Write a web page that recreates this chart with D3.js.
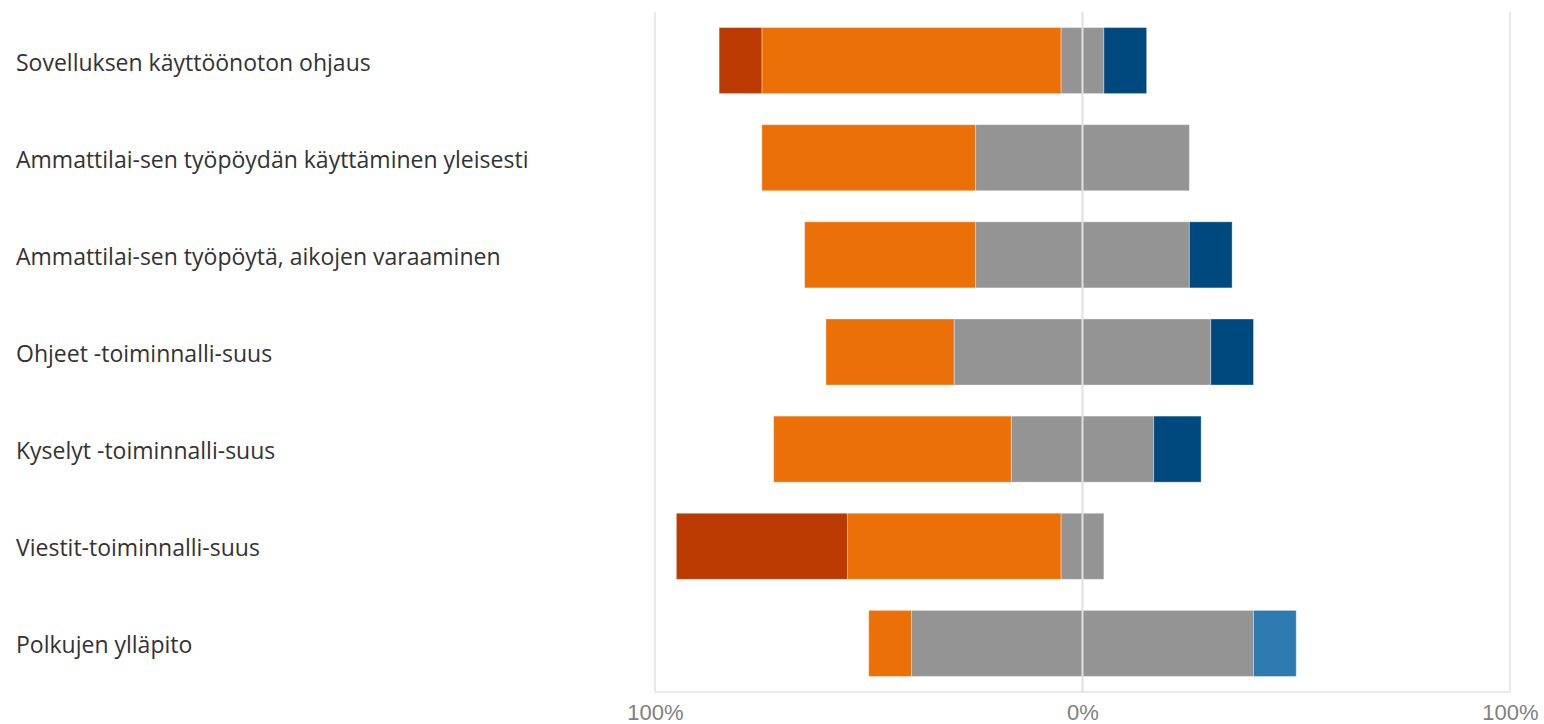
<!DOCTYPE html>
<html>
<head>
<meta charset="utf-8">
<script src="https://cdn.jsdelivr.net/npm/d3@7"></script>
<style>
  html, body { margin: 0; padding: 0; background: #fff; }
  svg { display: block; }
</style>
</head>
<body>
<svg id="chart" width="1544" height="724"></svg>
<script>
// Survey items (top to bottom)
const categories = [
  "Sovelluksen käyttöönoton ohjaus",
  "Ammattilai-sen työpöydän käyttäminen yleisesti",
  "Ammattilai-sen työpöytä, aikojen varaaminen",
  "Ohjeet -toiminnalli-suus",
  "Kyselyt -toiminnalli-suus",
  "Viestit-toiminnalli-suus",
  "Polkujen ylläpito"
];

// Answer shares in percent, one array per response level
const veryNegative = [10, 0, 0, 0, 0, 40, 0];
const negative     = [70, 50, 40, 30, 55.6, 50, 10];
const neutral      = [10, 50, 50, 60, 33.3, 10, 80];
const positive     = [0, 0, 0, 0, 0, 0, 10];
const veryPositive = [10, 0, 10, 10, 11.1, 0, 0];

const tickValues = [-100, 0, 100];
const tickLabels = ["100%", "0%", "100%"];

const colors = {
  veryNegative: "#BB3A02",
  negative: "#EA7007",
  neutral: "#949494",
  positive: "#2D7AB1",
  veryPositive: "#00497F"
};

const svg = d3.select("#chart");
const margin = { top: 12, right: 34, bottom: 32, left: 655 };
const W = 1544, H = 724;

const x = d3.scaleLinear().domain([-100, 100]).range([margin.left, W - margin.right]);
const y = d3.scaleBand().domain(categories).range([margin.top, H - margin.bottom]).paddingInner(0.32).paddingOuter(0.16);

// Build diverging segments: neutral split across zero
const segments = [];
categories.forEach((c, i) => {
  const half = neutral[i] / 2;
  let left = -half;
  segments.push({ c, key: "negative", x0: left - negative[i], x1: left });
  left -= negative[i];
  segments.push({ c, key: "veryNegative", x0: left - veryNegative[i], x1: left });
  segments.push({ c, key: "neutral", x0: -half, x1: half });
  let right = half;
  segments.push({ c, key: "positive", x0: right, x1: right + positive[i] });
  right += positive[i];
  segments.push({ c, key: "veryPositive", x0: right, x1: right + veryPositive[i] });
});

// Frame: left, right and bottom lines
const frame = svg.append("g").attr("stroke", "#e3e3e3").attr("stroke-width", 1.5);
frame.append("line").attr("x1", x(-100)).attr("x2", x(-100)).attr("y1", margin.top).attr("y2", H - margin.bottom);
frame.append("line").attr("x1", x(100)).attr("x2", x(100)).attr("y1", margin.top).attr("y2", H - margin.bottom);
frame.append("line").attr("x1", x(-100)).attr("x2", x(100)).attr("y1", H - margin.bottom).attr("y2", H - margin.bottom);

// Bars
svg.append("g").selectAll("rect")
  .data(segments.filter(d => d.x1 - d.x0 > 0))
  .join("rect")
  .attr("x", d => x(d.x0))
  .attr("width", d => x(d.x1) - x(d.x0))
  .attr("y", d => y(d.c))
  .attr("height", y.bandwidth())
  .attr("fill", d => colors[d.key])
  .attr("stroke", "rgba(255,255,255,0.35)")
  .attr("stroke-width", 1);

// Zero line on top of bars
svg.append("line")
  .attr("x1", x(0)).attr("x2", x(0))
  .attr("y1", margin.top).attr("y2", H - margin.bottom)
  .attr("stroke", "#e0e0e0").attr("stroke-width", 2);

// Category labels
svg.append("g").selectAll("text")
  .data(categories)
  .join("text")
  .attr("x", 16)
  .attr("y", d => y(d) + y.bandwidth() / 2 + 2)
  .attr("dy", "0.35em")
  .attr("font-family", "'Open Sans', 'Noto Sans', sans-serif")
  .attr("font-size", 23)
  .attr("fill", "#333")
  .text(d => d);

// X axis
const xAxis = d3.axisBottom(x).tickValues(tickValues).tickFormat((d, i) => tickLabels[i]).tickSize(0).tickPadding(12);
const gx = svg.append("g").attr("transform", `translate(0,${H - margin.bottom})`).call(xAxis);
gx.select(".domain").remove();
gx.selectAll("text")
  .attr("font-family", "'Liberation Sans', Arial, sans-serif")
  .attr("font-size", 22)
  .attr("fill", "#7f7f7f");
</script>
</body>
</html>
